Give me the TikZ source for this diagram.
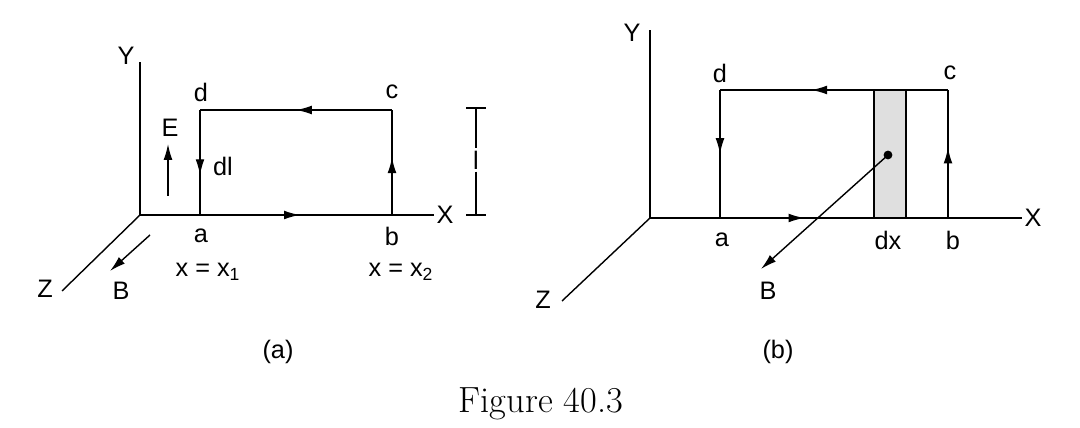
\documentclass[tikz,border=0pt]{standalone}
\usepackage{fontspec}
\setsansfont{Liberation Sans}
\usetikzlibrary{decorations.markings,arrows.meta}
\begin{document}
\begin{tikzpicture}[x=0.02cm,y=-0.02cm,
  lbl/.style={font=\sffamily\Large, inner sep=1pt},
  midarrow/.style={postaction={decorate},decoration={markings,
    mark=at position #1 with {\arrow{Latex[length=9pt,width=5pt]}}}},
  tip/.style={-{Latex[length=9pt,width=5pt]}}]
\useasboundingbox (0,0) rectangle (1080,428);
\tikzstyle{every path}=[line width=0.8pt]
% (a)
\coordinate (Oa) at (140,215);
\node[lbl] (Ya) at (126,56) {Y};
\node[lbl] (Xa) at (445,215) {X};
\node[lbl] (Za) at (45,289) {Z};
\draw (Oa) -- (140,62);
\draw (Oa) -- (Xa.west);
\draw (Oa) -- (62,291);
\coordinate (B1) at (150,235);
\coordinate (B2) at (110,271);
\draw[tip] (B1) -- (B2);
\node[lbl] (Ba) at (121,291) {B};
\coordinate (a1) at (200,215);
\coordinate (b1) at (392,215);
\coordinate (c1) at (392,110);
\coordinate (d1) at (200,110);
\draw[midarrow=0.52] (a1) -- (b1);
\draw[midarrow=0.55] (b1) -- (c1);
\draw[midarrow=0.5] (c1) -- (d1);
\draw[midarrow=0.62] (d1) -- (a1);
\node[lbl] (la) at (201,236) {a};
\node[lbl] (lb) at (392,236) {b};
\node[lbl] (lc) at (392,92) {c};
\node[lbl] (ld) at (201,92) {d};
\node[lbl] (dl) at (223,166) {dl};
\coordinate (E1) at (168,196);
\coordinate (E2) at (168,144);
\draw[tip] (E1) -- (E2);
\node[lbl] (E) at (170,128) {E};
\node[lbl] (l) at (476,160) {l};
\draw (476,108) -- (l.north) (l.south) -- (476,215);
\draw (466,108) -- (486,108) (466,215) -- (486,215);
\node[lbl] (x1) at (208,272) {x = x\textsubscript{1}};
\node[lbl] (x2) at (401,272) {x = x\textsubscript{2}};
\node[lbl] (capa) at (278,352) {(a)};
% (b)
\coordinate (Ob) at (650,218);
\node[lbl] (Yb) at (632,33) {Y};
\node[lbl] (Xb) at (1033,218) {X};
\node[lbl] (Zb) at (543,300) {Z};
\fill[gray!25] (874,90) rectangle (906,218);
\draw (874,90) -- (874,218) (906,90) -- (906,218);
\draw (Ob) -- (650,30);
\draw (Ob) -- (Xb.west);
\draw (Ob) -- (562,301);
\coordinate (a2) at (720,218);
\coordinate (b2) at (948,218);
\coordinate (c2) at (948,90);
\coordinate (d2) at (720,90);
\draw[midarrow=0.37] (a2) -- (b2);
\draw[midarrow=0.55] (b2) -- (c2);
\draw[midarrow=0.6] (c2) -- (d2);
\draw[midarrow=0.5] (d2) -- (a2);
\node[lbl] (la2) at (722,240) {a};
\node[lbl] (lb2) at (953,240) {b};
\node[lbl] (lc2) at (950,73) {c};
\node[lbl] (ld2) at (720,73) {d};
\node[lbl] (dx) at (888,240) {dx};
\fill (888,155) circle (2.5pt);
\coordinate (dot) at (888,155);
\coordinate (Bt) at (761,269);
\draw[tip] (dot) -- (Bt);
\node[lbl] (Bb) at (768,291) {B};
\node[lbl] (capb) at (778,352) {(b)};
\node[font=\huge] (fig) at (541,404) {Figure 40.3};
\end{tikzpicture}
\end{document}
